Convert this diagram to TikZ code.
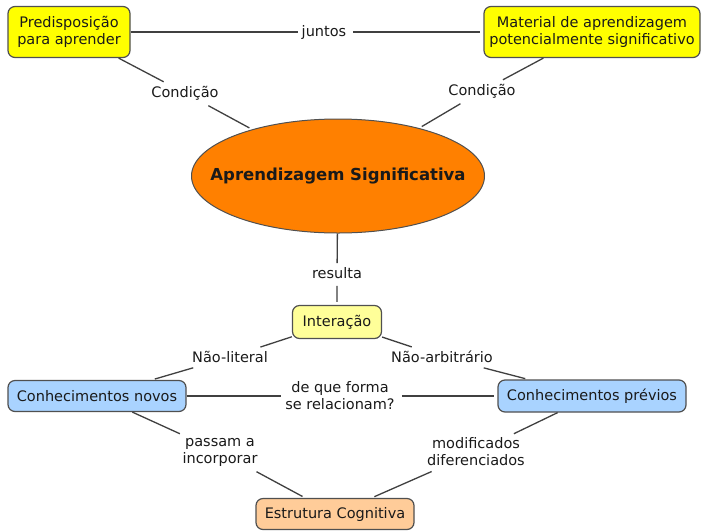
\documentclass[tikz,border=0pt]{standalone}
\usepackage{fontspec}
\setmainfont{DejaVu Sans}
\usetikzlibrary{shapes.geometric}
\definecolor{boxline}{HTML}{505050}
\definecolor{linkline}{HTML}{404040}
\definecolor{cyellow}{HTML}{FFFF00}
\definecolor{cpale}{HTML}{FFFF99}
\definecolor{cblue}{HTML}{A9D3FF}
\definecolor{cpeach}{HTML}{FFCC99}
\definecolor{corange}{HTML}{FF8000}
\definecolor{ctext}{HTML}{1A1A1A}
\tikzset{
  concept/.style={draw=boxline, line width=1.2pt, rounded corners=7pt,
    align=center, inner sep=0pt, text=ctext,
    font=\fontsize{14.5}{17}\selectfont},
  linklabel/.style={align=center, inner sep=4pt, text=ctext,
    font=\fontsize{14.5}{17}\selectfont},
  link/.style={draw=linkline, line width=1.3pt, shorten <=3pt, shorten >=3pt}
}
\begin{document}
\begin{tikzpicture}[x=1pt,y=-1pt]
\useasboundingbox (0,0) rectangle (701,531);
\fill[white] (0,0) rectangle (701,531);

% concepts
\node[concept, fill=cyellow, minimum width=122pt, minimum height=51pt]
  (pred) at (69,32) {Predisposição\\para aprender};
\node[concept, fill=cyellow, minimum width=216pt, minimum height=51pt]
  (mat) at (592,32) {Material de aprendizagem\\potencialmente significativo};
% central ellipse: fixed size, its title set on top of it
\node[ellipse, draw=boxline, line width=1pt, fill=corange, inner sep=0pt,
  minimum width=293pt, minimum height=114pt]
  (ap) at (338,176) {};
\node[text=ctext, font=\fontsize{16.5}{19}\selectfont\bfseries]
  (aptitle) at (ap.center) {Aprendizagem Significativa};
\node[concept, fill=cpale, minimum width=89pt, minimum height=33pt]
  (int) at (337,322) {Interação};
\node[concept, fill=cblue, minimum width=178pt, minimum height=31pt]
  (novos) at (97,396) {Conhecimentos novos};
\node[concept, fill=cblue, minimum width=188pt, minimum height=32pt]
  (prev) at (592,396) {Conhecimentos prévios};
\node[concept, fill=cpeach, minimum width=158pt, minimum height=31pt]
  (ec) at (335,514) {Estrutura Cognitiva};

% linking phrases
\node[linklabel] (juntos) at (324,32) {juntos};
\node[linklabel] (cond1) at (185,93) {Condição};
\node[linklabel] (cond2) at (482,91) {Condição};
\node[linklabel] (res) at (337,273) {resulta};
\node[linklabel] (naolit) at (230,357) {Não-literal};
\node[linklabel] (naoarb) at (442,357) {Não-arbitrário};
\node[linklabel] (rel) at (340,396) {de que forma\\se relacionam?};
\node[linklabel] (pass) at (220,452) {passam a\\incorporar};
\node[linklabel] (modif) at (476,452) {modificados\\diferenciados};

% connectors
\draw[link] (pred) -- (juntos) -- (mat);
\draw[link] (pred) -- (cond1) -- (ap);
\draw[link] (mat) -- (cond2) -- (ap);
\draw[link] (ap) -- (res) -- (int);
\draw[link] (int) -- (naolit) -- (novos);
\draw[link] (int) -- (naoarb) -- (prev);
\draw[link] (novos) -- (rel) -- (prev);
\draw[link] (novos) -- (pass) -- (ec);
\draw[link] (prev) -- (modif) -- (ec);
\end{tikzpicture}
\end{document}
